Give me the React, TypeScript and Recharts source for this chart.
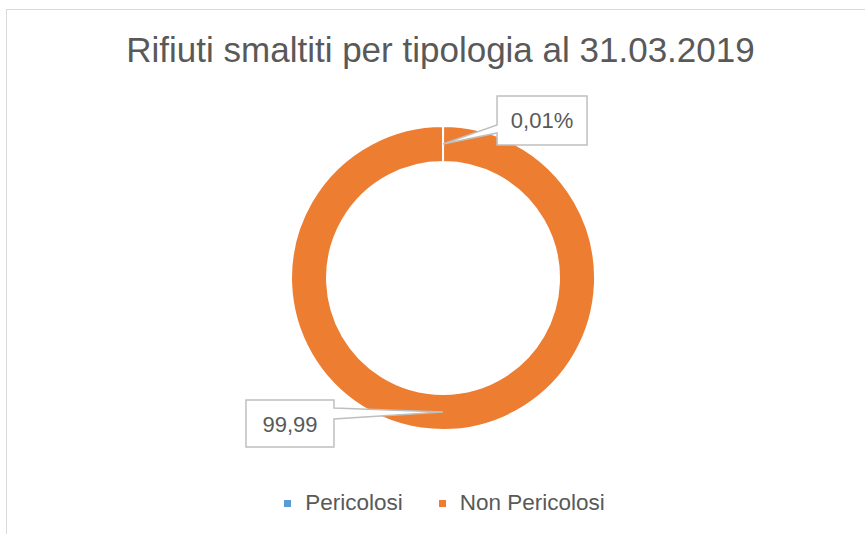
import { PieChart, Pie, Cell, Legend } from 'recharts'

const categories = ['Pericolosi', 'Non Pericolosi']
const values = [0.01, 99.99]
const labelSuffix = ['%', '']
const colors = ['#5B9BD5', '#ED7D31']

const data = categories.map((name, i) => ({ name, value: values[i] }))

const RADIAN = Math.PI / 180
const FONT = '"Liberation Sans", Arial, sans-serif'

const renderCallout = (props: any) => {
  const { cx, cy, midAngle, innerRadius, outerRadius, index, value } = props
  const r = (innerRadius + outerRadius) / 2
  const ax = cx + r * Math.cos(-midAngle * RADIAN)
  const ay = cy + r * Math.sin(-midAngle * RADIAN)
  const text = value.toLocaleString('it-IT') + labelSuffix[index]

  let path = ''
  let tx = 0
  let ty = 0
  if (index === 0) {
    const left = ax + 54
    const top = ay - 48
    const w = 90
    const h = 49
    path = `M${left},${top} H${left + w} V${top + h} H${left} V${top + 37} L${ax},${ay} L${left},${top + 29} Z`
    tx = left + w / 2
    ty = top + 32
  } else {
    const left = ax - 197
    const top = ay - 12
    const w = 88
    const h = 47
    path = `M${left},${top} H${left + w} V${top + 8} L${ax},${ay} L${left + w},${top + 19} V${top + h} H${left} Z`
    tx = left + w / 2
    ty = top + 32
  }
  return (
    <g key={`callout-${index}`}>
      <path d={path} fill="#ffffff" stroke="#BFBFBF" strokeWidth={1.5} />
      <text x={tx} y={ty} textAnchor="middle" fill="#595959" fontSize={22} fontFamily={FONT}>
        {text}
      </text>
    </g>
  )
}

const renderLegend = () => (
  <div style={{ display: 'flex', justifyContent: 'center', alignItems: 'center', fontFamily: FONT, fontSize: 22.5, color: '#595959' }}>
    {categories.map((c, i) => (
      <div key={c} style={{ display: 'flex', alignItems: 'center', marginRight: i === 0 ? 36 : 0 }}>
        <span style={{ width: 7, height: 7, background: colors[i], display: 'inline-block', marginRight: 14 }} />
        <span>{c}</span>
      </div>
    ))}
  </div>
)

export default function App() {
  return (
    <div style={{ position: 'absolute', left: 0, top: 0, width: 865, height: 534, overflow: 'hidden', background: '#fff' }}>
      <div style={{ position: 'absolute', left: 6, top: 9, width: 880, height: 560, border: '1px solid #D9D9D9' }} />
      <div
        style={{
          position: 'absolute',
          left: 0,
          top: 33,
          width: 881,
          textAlign: 'center',
          fontFamily: FONT,
          fontSize: 35,
          lineHeight: '34px',
          color: '#595959',
        }}
      >
        Rifiuti smaltiti per tipologia al 31.03.2019
      </div>
      <div style={{ position: 'absolute', left: 0, top: 0 }}>
        <PieChart width={865} height={534} margin={{ top: 0, right: 0, bottom: 0, left: 0 }}>
          <Pie
            data={data}
            dataKey="value"
            nameKey="name"
            cx={443}
            cy={278}
            innerRadius={116}
            outerRadius={152}
            startAngle={90}
            endAngle={-270}
            stroke="#ffffff"
            strokeWidth={2}
            label={renderCallout}
            labelLine={false}
            isAnimationActive={false}
          >
            {data.map((d, i) => (
              <Cell key={d.name} fill={colors[i]} />
            ))}
          </Pie>
          <Legend content={renderLegend} wrapperStyle={{ position: 'absolute', top: 490, left: 12, width: 865 }} />
        </PieChart>
      </div>
    </div>
  )
}
